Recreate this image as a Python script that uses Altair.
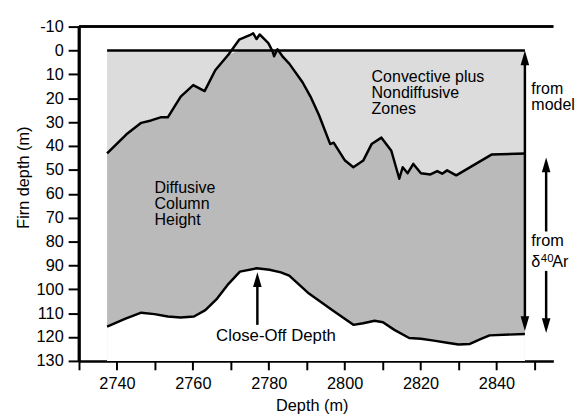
import altair as alt
import pandas as pd

# ---- data ----
# top of the diffusive column (firn depth, m) vs. depth (m)
x_up = [2737.4, 2742.5, 2746.4, 2749.0, 2751.5, 2753.4, 2756.8, 2760.1, 2763.1, 2765.9,
        2769.4, 2772.2, 2775.0, 2775.9, 2776.8, 2777.6, 2779.9, 2781.0, 2781.4, 2782.3,
        2783.8, 2785.4, 2788.9, 2791.0, 2793.2, 2796.2, 2797.1, 2800.1, 2802.3, 2804.9,
        2807.1, 2809.7, 2812.3, 2814.4, 2815.3, 2816.6, 2818.1, 2820.1, 2822.6, 2824.4,
        2825.7, 2827.0, 2829.4, 2838.7, 2847.5]
y_up = [43.1, 35.1, 30.3, 29.3, 28.0, 28.0, 19.3, 14.5, 17.0, 8.3,
        1.7, -4.5, -6.4, -7.2, -4.8, -6.7, -3.1, 0.3, 2.4, -0.5,
        2.8, 5.5, 13.3, 19.3, 26.9, 39.2, 38.6, 46.1, 48.9, 46.1,
        39.2, 36.5, 42.0, 53.7, 48.9, 51.4, 47.5, 51.4, 51.9, 50.5,
        51.6, 50.2, 52.3, 43.6, 43.1]

# close-off depth
x_lo = [2737.4, 2742.1, 2746.4, 2749.9, 2753.4, 2756.8, 2760.3, 2763.3, 2766.4, 2769.4,
        2772.4, 2776.8, 2780.2, 2783.2, 2785.4, 2790.6, 2796.7, 2802.3, 2804.9, 2807.9,
        2810.1, 2813.1, 2817.0, 2820.1, 2823.5, 2827.0, 2830.0, 2833.0, 2836.1, 2838.2,
        2847.5]
y_lo = [115.6, 112.4, 109.8, 110.4, 111.4, 111.8, 111.4, 108.7, 103.9, 97.7,
        92.6, 91.2, 91.8, 92.9, 94.3, 101.8, 108.7, 114.9, 114.2, 113.2,
        113.8, 117.0, 120.4, 120.7, 121.5, 122.4, 123.1, 122.9, 120.7, 119.3,
        118.7]

zero_x = [2737.4, 2847.5]
zero_y = [0, 0]

x_ticks = list(range(2730, 2851, 10))
y_ticks = list(range(-10, 131, 10))

# arrows: shaft segments and heads
shaft_x = [2847.5, 2853.1, 2853.1, 2777.0]
shaft_y1 = [3.0, 47.5, 92.3, 95.5]
shaft_y2 = [115.0, 75.8, 115.8, 114.9]
head_up_x = [2847.5, 2853.1, 2777.0]
head_up_y = [0.0, 44.8, 92.9]
head_dn_x = [2847.5, 2853.1]
head_dn_y = [117.5, 118.3]

FONT = "Liberation Sans"
LIGHT = "#dcdcdc"
DARK = "#bababa"
Y_MAX = 130
W, H = 481, 339

up = pd.DataFrame({"x": x_up, "y": y_up})
lo = pd.DataFrame({"x": x_lo, "y": y_lo})
zero = pd.DataFrame({"x": zero_x, "y": zero_y})
shafts = pd.DataFrame({"x": shaft_x, "y": shaft_y1, "y2": shaft_y2})
hup = pd.DataFrame({"x": head_up_x, "y": head_up_y})
hdn = pd.DataFrame({"x": head_dn_x, "y": head_dn_y})

xscale = alt.Scale(domain=[2730, 2855], nice=False, zero=False)
yscale = alt.Scale(domain=[-10, 130], nice=False, zero=False, reverse=True)

y_axis = alt.Axis(values=y_ticks, tickSize=11, tickWidth=2, domainWidth=2.5,
                  labelPadding=5, labelFlush=False, labelOverlap=False,
                  labelExpr="datum.value < 0 ? '-' + abs(datum.value) : '' + datum.value",
                  title="Firn depth (m)", titleX=-56, titleY=152.7,
                  titleBaseline="middle")
x_axis = alt.Axis(values=x_ticks, tickSize=9, tickWidth=2, domainWidth=2.5,
                  labelPadding=6, labelFlush=False, labelOverlap=False,
                  labelExpr="datum.value % 20 == 0 ? '' + datum.value : ''",
                  title="Depth (m)", titleX=236, titleY=50, titleBaseline="alphabetic")

yy = lambda f="y": alt.Y(f"{f}:Q", scale=yscale, axis=y_axis)
xx = lambda: alt.X("x:Q", scale=xscale, axis=x_axis)

light = alt.Chart(up).transform_calculate(yz="0").mark_area(
    color=LIGHT, opacity=1).encode(x=xx(), y=yy(), y2="yz:Q")

dark = alt.Chart(up).transform_calculate(
    ytop="max(datum.y, 0)", ybot=str(Y_MAX)).mark_area(
    color=DARK, opacity=1).encode(x=xx(), y=yy("ytop"), y2="ybot:Q")

mask = alt.Chart(lo).transform_calculate(ybot=str(Y_MAX)).mark_area(
    color="white", opacity=1).encode(x=xx(), y=yy(), y2="ybot:Q")

line_kw = dict(color="black", strokeWidth=2.5, strokeJoin="round", strokeCap="butt")
upper_line = alt.Chart(up).mark_line(**line_kw).encode(x=xx(), y=yy())
lower_line = alt.Chart(lo).mark_line(**line_kw).encode(x=xx(), y=yy())
zero_line = alt.Chart(zero).mark_line(**line_kw).encode(x=xx(), y=yy())

# plot frame: top and left edges (no right edge in the original)
frame_top = alt.Chart(zero).mark_rule(color="black", strokeWidth=2.5).encode(
    x=alt.value(0), x2=alt.value(W), y=alt.value(0))
frame_left = alt.Chart(zero).mark_rule(color="black", strokeWidth=2.5).encode(
    x=alt.value(0), y=alt.value(0), y2=alt.value(H))

shaft_layer = alt.Chart(shafts).mark_rule(color="black", strokeWidth=2.5).encode(
    x=xx(), y=yy(), y2="y2:Q")

head_kw = dict(filled=True, size=900, color="black", opacity=1, strokeWidth=0)
heads_up = alt.Chart(hup).mark_point(shape="M0,0L-0.29,1L0.29,1Z", **head_kw).encode(
    x=xx(), y=yy())
heads_dn = alt.Chart(hdn).mark_point(shape="M0,0L-0.29,-1L0.29,-1Z", **head_kw).encode(
    x=xx(), y=yy())

# multi-line annotations
ml_text = ["Convective plus\nNondiffusive\nZones", "Diffusive\nColumn\nHeight",
           "from\nmodel"]
ml_x = [2807.1, 2749.9, 2849.2]
ml_y = [13.1, 59.6, 18.1]
ml = pd.DataFrame({"x": ml_x, "y": ml_y, "t": ml_text})
ml_texts = alt.Chart(ml).mark_text(align="left", baseline="alphabetic", fontSize=16.2,
                                   lineHeight=16.4, lineBreak="\n", font=FONT,
                                   color="black").encode(x=xx(), y=yy(), text="t:N")

# single-line annotations
sl_text = ["from", "\u03b4", "Ar"]
sl_x = [2849.2, 2849.2, 2854.7]
sl_y = [81.9, 90.6, 90.6]
sl = pd.DataFrame({"x": sl_x, "y": sl_y, "t": sl_text})
sl_texts = alt.Chart(sl).mark_text(align="left", baseline="alphabetic", fontSize=16.5,
                                   font=FONT, color="black").encode(
    x=xx(), y=yy(), text="t:N")

sup = pd.DataFrame({"x": [2851.7], "y": [88.6], "t": ["40"]})
sup_text = alt.Chart(sup).mark_text(align="left", baseline="alphabetic", fontSize=11.5,
                                    font=FONT, color="black").encode(
    x=xx(), y=yy(), text="t:N")

close = pd.DataFrame({"x": [2781.9], "y": [121.7], "t": ["Close-Off Depth"]})
close_text = alt.Chart(close).mark_text(align="center", baseline="alphabetic",
                                        fontSize=17, font=FONT, color="black").encode(
    x=xx(), y=yy(), text="t:N")

chart = alt.layer(
    light, dark, mask, upper_line, lower_line, zero_line, frame_top, frame_left,
    shaft_layer, heads_up, heads_dn, ml_texts, sl_texts, sup_text, close_text
).properties(
    width=W, height=H,
    padding={"left": 72, "top": 16, "right": 26, "bottom": 54},
    autosize=alt.AutoSizeParams(type="none"),
).configure_view(strokeWidth=0).configure_axis(
    domainColor="black", tickColor="black", labelColor="black", titleColor="black",
    labelFont=FONT, titleFont=FONT, labelFontSize=16.5, titleFontSize=16.5,
    titleFontWeight="normal", grid=False, zindex=2,
)

chart.save("out.html", embed_options={"renderer": "svg", "actions": False})
